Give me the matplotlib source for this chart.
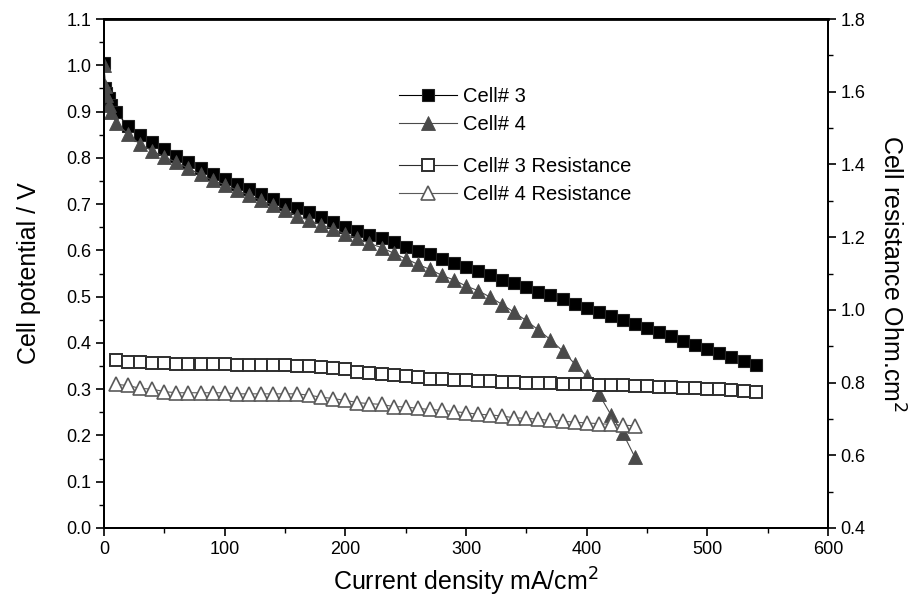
import matplotlib
matplotlib.use("Agg")
import matplotlib.pyplot as plt
from matplotlib.ticker import MultipleLocator, FormatStrFormatter

plt.rcParams['font.family'] = ['Liberation Sans', 'DejaVu Sans']

# ---- data ----
cell3_x = [0, 1, 2, 4, 6, 10, 20, 30, 40, 50, 60, 70, 80, 90, 100, 110, 120, 130, 140, 150,
           160, 170, 180, 190, 200, 210, 220, 230, 240, 250, 260, 270, 280, 290, 300, 310,
           320, 330, 340, 350, 360, 370, 380, 390, 400, 410, 420, 430, 440, 450, 460, 470,
           480, 490, 500, 510, 520, 530, 540]
cell3_v = [1.005, 0.95, 0.94, 0.93, 0.915, 0.898, 0.869, 0.849, 0.834, 0.818, 0.804, 0.790,
           0.777, 0.764, 0.755, 0.744, 0.733, 0.722, 0.711, 0.701, 0.692, 0.682, 0.672, 0.661,
           0.650, 0.641, 0.633, 0.627, 0.618, 0.607, 0.599, 0.592, 0.581, 0.573, 0.563, 0.555,
           0.546, 0.537, 0.530, 0.520, 0.511, 0.503, 0.494, 0.485, 0.476, 0.467, 0.459, 0.450,
           0.440, 0.432, 0.423, 0.414, 0.405, 0.396, 0.387, 0.378, 0.370, 0.361, 0.352]

cell4_x = [0, 1, 2, 4, 6, 10, 20, 30, 40, 50, 60, 70, 80, 90, 100, 110, 120, 130, 140, 150,
           160, 170, 180, 190, 200, 210, 220, 230, 240, 250, 260, 270, 280, 290, 300, 310,
           320, 330, 340, 350, 360, 370, 380, 390, 400, 410, 420, 430, 440]
cell4_v = [1.0, 0.955, 0.935, 0.915, 0.90, 0.876, 0.851, 0.829, 0.815, 0.802, 0.790, 0.777,
           0.764, 0.751, 0.742, 0.730, 0.719, 0.708, 0.697, 0.687, 0.674, 0.665, 0.655, 0.646,
           0.635, 0.626, 0.615, 0.606, 0.594, 0.582, 0.570, 0.559, 0.546, 0.536, 0.523, 0.513,
           0.499, 0.483, 0.466, 0.448, 0.428, 0.407, 0.383, 0.355, 0.328, 0.290, 0.245, 0.205,
           0.153]

res3_x = [10, 20, 30, 40, 50, 60, 70, 80, 90, 100, 110, 120, 130, 140, 150, 160, 170, 180,
          190, 200, 210, 220, 230, 240, 250, 260, 270, 280, 290, 300, 310, 320, 330, 340,
          350, 360, 370, 380, 390, 400, 410, 420, 430, 440, 450, 460, 470, 480, 490, 500,
          510, 520, 530, 540]
res3_r = [0.861, 0.857, 0.856, 0.854, 0.854, 0.852, 0.852, 0.852, 0.852, 0.852, 0.849, 0.848,
          0.848, 0.848, 0.847, 0.846, 0.845, 0.843, 0.840, 0.836, 0.830, 0.826, 0.823, 0.820,
          0.817, 0.814, 0.811, 0.810, 0.807, 0.806, 0.805, 0.805, 0.802, 0.802, 0.800, 0.798,
          0.798, 0.797, 0.796, 0.795, 0.794, 0.793, 0.792, 0.791, 0.790, 0.789, 0.788, 0.786,
          0.785, 0.783, 0.781, 0.779, 0.777, 0.775]

res4_x = [10, 20, 30, 40, 50, 60, 70, 80, 90, 100, 110, 120, 130, 140, 150, 160, 170, 180,
          190, 200, 210, 220, 230, 240, 250, 260, 270, 280, 290, 300, 310, 320, 330, 340,
          350, 360, 370, 380, 390, 400, 410, 420, 430, 440]
res4_r = [0.795, 0.792, 0.784, 0.782, 0.775, 0.772, 0.772, 0.772, 0.772, 0.772, 0.769, 0.769,
          0.769, 0.769, 0.769, 0.769, 0.765, 0.760, 0.756, 0.751, 0.745, 0.742, 0.740, 0.734,
          0.733, 0.729, 0.726, 0.724, 0.720, 0.717, 0.713, 0.711, 0.708, 0.703, 0.702, 0.699,
          0.696, 0.694, 0.691, 0.689, 0.687, 0.685, 0.683, 0.681]

# ---- figure ----
W, H = 911, 604
fig = plt.figure(figsize=(W / 100, H / 100), dpi=100)
ax = fig.add_axes([104 / W, 1 - 528 / H, (828 - 104) / W, (528 - 19) / H])
ax2 = ax.twinx()

c3 = '#000000'
c4 = '#4a4a4a'
cr3 = '#2e2e2e'
cr4 = '#5a5a5a'

l1, = ax.plot(cell3_x, cell3_v, '-', color=c3, lw=0.8, marker='s', ms=8.6,
              mfc=c3, mec='#222222', mew=0.8, label='Cell# 3')
l2, = ax.plot(cell4_x, cell4_v, '-', color=c4, lw=0.8, marker='^', ms=9.5,
              mfc=c4, mec=c4, mew=0.6, label='Cell# 4')
l3, = ax2.plot(res3_x, res3_r, '-', color=cr3, lw=0.8, marker='s', ms=8.2,
               mfc='white', mec=cr3, mew=1.4, label='Cell# 3 Resistance')
l4, = ax2.plot(res4_x, res4_r, '-', color=cr4, lw=0.8, marker='^', ms=9.5,
               mfc='white', mec=cr4, mew=1.2, label='Cell# 4 Resistance')

ax.set_xlim(0, 600)
ax.set_ylim(0.0, 1.1)
ax2.set_ylim(0.4, 1.8)

ax.xaxis.set_major_locator(MultipleLocator(100))
ax.xaxis.set_minor_locator(MultipleLocator(50))
ax.yaxis.set_major_locator(MultipleLocator(0.1))
ax.yaxis.set_minor_locator(MultipleLocator(0.05))
ax.yaxis.set_major_formatter(FormatStrFormatter('%.1f'))
ax2.yaxis.set_major_locator(MultipleLocator(0.2))
ax2.yaxis.set_minor_locator(MultipleLocator(0.1))
ax2.yaxis.set_major_formatter(FormatStrFormatter('%.1f'))

for a in (ax, ax2):
    a.tick_params(which='major', direction='out', length=6, width=1.2, labelsize=13,
                  colors='black', pad=3)
    a.tick_params(which='minor', direction='out', length=3.5, width=1.0)
    for s in a.spines.values():
        s.set_linewidth(1.4)
ax2.spines['top'].set_linewidth(2.0)

ax.set_xlabel('Current density mA/cm$^2$', fontsize=18, labelpad=6)
ax.set_ylabel('Cell potential / V', fontsize=18, labelpad=18)
ax2.set_ylabel('Cell resistance Ohm.cm$^2$', fontsize=18, rotation=270, labelpad=28)

common = dict(loc='upper left', frameon=False, fontsize=14.5, bbox_transform=fig.transFigure,
              borderpad=0, borderaxespad=0, handlelength=2.9, handletextpad=0.3,
              labelspacing=0.45)
fig.legend(handles=[l1, l2], bbox_to_anchor=(399 / W, 1 - 87 / H), **common)
fig.legend(handles=[l3, l4], bbox_to_anchor=(399 / W, 1 - 157 / H), **common)

fig.savefig('out.png', dpi=100)
